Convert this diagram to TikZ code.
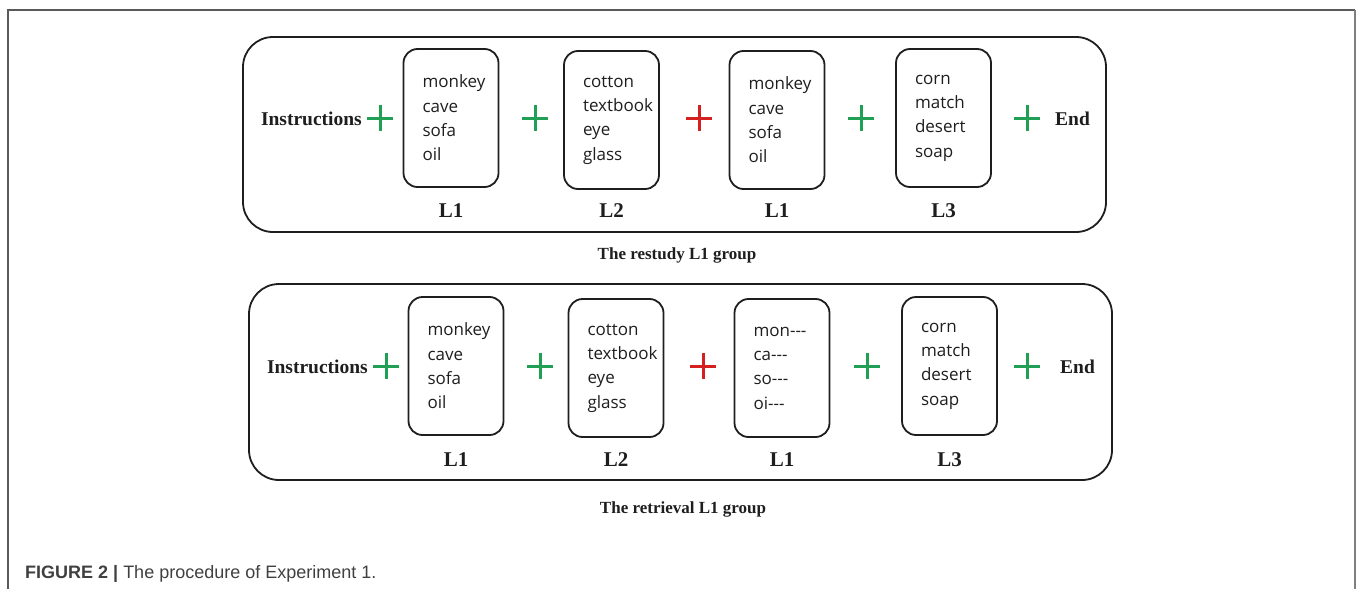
\documentclass[tikz,border=0pt]{standalone}
\usepackage{fontspec}
\setmainfont{Liberation Serif}
\newfontfamily\wordfont{Open Sans}
\newfontfamily\capfont{Liberation Sans}
\definecolor{plusgreen}{HTML}{1FA055}
\definecolor{plusred}{HTML}{D42020}
\definecolor{ink}{HTML}{1E1E1E}
\definecolor{framegray}{HTML}{5A5A5A}
\newcommand{\dsh}{-{}-{}-}
\begin{document}
\begin{tikzpicture}[x=1pt,y=-1pt,
  groupbox/.style={draw=ink, line width=1.8pt, rounded corners=30pt,
    minimum width=863pt, inner sep=0pt},
  listbox/.style={draw=ink, line width=1.8pt, rounded corners=14pt,
    text width=57pt, inner xsep=19pt, inner ysep=0pt,
    minimum height=138pt, align=left, text=ink,
    font=\wordfont\fontsize{17}{24.3}\selectfont},
  lbl/.style={font=\bfseries\fontsize{21}{24}\selectfont, text=ink, inner sep=0pt},
  cue/.style={font=\bfseries\fontsize{19.5}{22}\selectfont, text=ink, inner sep=0pt},
  title/.style={font=\bfseries\fontsize{17}{20}\selectfont, text=ink, inner sep=0pt},
  plusmark/.style={minimum size=26pt, inner sep=0pt,
    path picture={\draw[#1, line width=3pt]
      (path picture bounding box.north) -- (path picture bounding box.south)
      (path picture bounding box.west) -- (path picture bounding box.east);}},
  ]
\useasboundingbox (0,0) rectangle (1357,589);

% page frame, open at the bottom
\coordinate (fbl) at (8,589);
\coordinate (ftl) at (8,10);
\coordinate (ftr) at (1355,10);
\coordinate (fbr) at (1355,589);
\draw[framegray, line width=1.2pt] (fbl) -- (ftl) -- (ftr);
\draw[gray, line width=2pt] (ftr) -- (fbr);

% ---------- restudy group ----------
\node[groupbox, minimum height=195pt] (tgroup) at (674.5,134.5) {};
\node[cue, anchor=east] (tinstr) at (362,119) {Instructions};
\node[plusmark=plusgreen] (tp1) at (380,118) {};
\node[listbox] (tb1) at (451,118) {monkey\\cave\\sofa\\oil};
\node[plusmark=plusgreen] (tp2) at (535,118) {};
\node[listbox] (tb2) at (611.5,120) {cotton\\textbook\\eye\\glass};
\node[plusmark=plusred] (tp3) at (699,118) {};
\node[listbox] (tb3) at (777,120) {monkey\\cave\\sofa\\oil};
\node[plusmark=plusgreen] (tp4) at (861,118) {};
\node[listbox] (tb4) at (943.5,118) {corn\\match\\desert\\soap};
\node[plusmark=plusgreen] (tp5) at (1027,118) {};
\node[cue, anchor=west] (tend) at (1055,119) {End};
\node[lbl] (tl1) at (tb1.south |- 0,211) {L1};
\node[lbl] (tl2) at (tb2.south |- 0,211) {L2};
\node[lbl] (tl3) at (tb3.south |- 0,211) {L1};
\node[lbl] (tl4) at (tb4.south |- 0,211) {L3};
\node[title] (ttitle) at (677,255) {The restudy L1 group};

% ---------- retrieval group ----------
\node[groupbox, minimum height=196pt] (bgroup) at (680.5,382) {};
\node[cue, anchor=east] (binstr) at (368,367) {Instructions};
\node[plusmark=plusgreen] (bp1) at (386,366) {};
\node[listbox] (bb1) at (456,366) {monkey\\cave\\sofa\\oil};
\node[plusmark=plusgreen] (bp2) at (540,366) {};
\node[listbox] (bb2) at (616,368) {cotton\\textbook\\eye\\glass};
\node[plusmark=plusred] (bp3) at (703,366) {};
\node[listbox] (bb3) at (782,368) {mon\dsh\\ca\dsh\\so\dsh\\oi\dsh};
\node[plusmark=plusgreen] (bp4) at (867,366) {};
\node[listbox] (bb4) at (949.5,366) {corn\\match\\desert\\soap};
\node[plusmark=plusgreen] (bp5) at (1027,366) {};
\node[cue, anchor=west] (bend) at (1060,367) {End};
\node[lbl] (bl1) at (bb1.south |- 0,460) {L1};
\node[lbl] (bl2) at (bb2.south |- 0,460) {L2};
\node[lbl] (bl3) at (bb3.south |- 0,460) {L1};
\node[lbl] (bl4) at (bb4.south |- 0,460) {L3};
\node[title] (btitle) at (683,509) {The retrieval L1 group};

% caption
\node[anchor=base west, inner sep=0pt, text=ink!85,
  font=\capfont\fontsize{18}{21}\selectfont] (caption) at (25,578)
  {\textbf{FIGURE 2 |} The procedure of Experiment 1.};
\end{tikzpicture}
\end{document}
